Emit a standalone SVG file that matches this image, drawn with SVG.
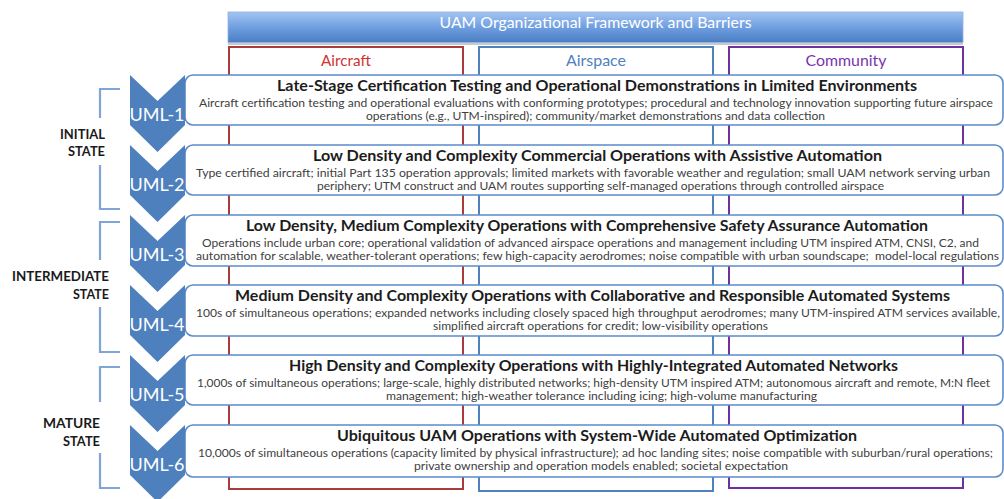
<svg xmlns="http://www.w3.org/2000/svg" xmlns:xlink="http://www.w3.org/1999/xlink" width="1004" height="499" viewBox="0 0 1004 499">
  <style>
    .hdr { font-family: Lato, "Liberation Sans", sans-serif; font-size: 15px; fill: #ffffff; }
    .col { fill: none; stroke-width: 2; }
    .collbl { font-family: Lato, "Liberation Sans", sans-serif; font-size: 15px; text-anchor: middle; }
    .row { fill: #ffffff; stroke: #5b8cca; stroke-width: 1.6; }
    .ttl { font-family: Lato, "Liberation Sans", sans-serif; font-size: 15px; font-weight: bold; fill: #1c1c1c; }
    .dsc { font-family: Lato, "Liberation Sans", sans-serif; font-size: 11px; fill: #404040; }
    .chev { fill: #4e80be; }
    .uml { font-family: Lato, "Liberation Sans", sans-serif; font-size: 18px; fill: #ffffff; text-anchor: middle; }
    .brk { fill: none; stroke: #7fa6d6; stroke-width: 2.2; }
    .state { font-family: Lato, "Liberation Sans", sans-serif; font-size: 13.5px; font-weight: bold; fill: #1a1a1a; }
  </style>
  <defs>
    <linearGradient id="hdrGrad" x1="0" y1="0" x2="0" y2="1">
      <stop offset="0" stop-color="#a4c5f2"/>
      <stop offset="0.5" stop-color="#6f9fe0"/>
      <stop offset="1" stop-color="#4a7dc3"/>
    </linearGradient>
    <path id="chevron" d="M0,0 L27.5,26 L55,0 L55,50 L27.5,77 L0,50 Z"/>
  </defs>

  <rect width="1004" height="499" fill="#ffffff"/>

  <!-- framework header -->
  <g id="header">
    <rect x="228" y="43" width="735" height="2" fill="#c9c9c9"/>
    <rect x="228" y="12" width="735" height="30.5" fill="url(#hdrGrad)" stroke="#8db2e6" stroke-width="0.8"/>
    <text class="hdr" x="439.5" y="28" textLength="312" lengthAdjust="spacingAndGlyphs">UAM Organizational Framework and Barriers</text>
  </g>

  <!-- barrier columns -->
  <g id="col-aircraft">
    <rect class="col" x="229" y="47" width="234" height="442" stroke="#aa3b3b"/>
    <text class="collbl" x="346" y="65.5" fill="#cf3434" textLength="50" lengthAdjust="spacingAndGlyphs">Aircraft</text>
  </g>
  <g id="col-airspace">
    <rect class="col" x="479" y="47" width="234" height="444" stroke="#4f81bd"/>
    <text class="collbl" x="596" y="65.5" fill="#4f81bd" textLength="60" lengthAdjust="spacingAndGlyphs">Airspace</text>
  </g>
  <g id="col-community">
    <rect class="col" x="729" y="47" width="234" height="441" stroke="#7030a0"/>
    <text class="collbl" x="846" y="65.5" fill="#7a35b0" textLength="81" lengthAdjust="spacingAndGlyphs">Community</text>
  </g>

  <!-- maturity levels -->
  <g id="uml-1">
    <rect class="row" x="185" y="75" width="818" height="50" rx="8"/>
    <text class="ttl" x="277" y="91" textLength="640" lengthAdjust="spacingAndGlyphs">Late-Stage Certification Testing and Operational Demonstrations in Limited Environments</text>
    <text class="dsc" x="199" y="106.5" textLength="794" lengthAdjust="spacingAndGlyphs">Aircraft certification testing and operational evaluations with conforming prototypes; procedural and technology innovation supporting future airspace</text>
    <text class="dsc" x="366" y="120" textLength="459" lengthAdjust="spacingAndGlyphs">operations (e.g., UTM-inspired); community/market demonstrations and data collection</text>
    <use href="#chevron" class="chev" x="130" y="75"/>
    <text class="uml" x="157" y="121">UML-1</text>
  </g>

  <g id="uml-2">
    <rect class="row" x="185" y="145" width="818" height="50" rx="8"/>
    <text class="ttl" x="313" y="161" textLength="569" lengthAdjust="spacingAndGlyphs">Low Density and Complexity Commercial Operations with Assistive Automation</text>
    <text class="dsc" x="196" y="176.5" textLength="794" lengthAdjust="spacingAndGlyphs">Type certified aircraft; initial Part 135 operation approvals; limited markets with favorable weather and regulation; small UAM network serving urban</text>
    <text class="dsc" x="317" y="190" textLength="567" lengthAdjust="spacingAndGlyphs">periphery; UTM construct and UAM routes supporting self-managed operations through controlled airspace</text>
    <use href="#chevron" class="chev" x="130" y="145"/>
    <text class="uml" x="157" y="191">UML-2</text>
  </g>

  <g id="uml-3">
    <rect class="row" x="185" y="215" width="818" height="51" rx="8"/>
    <text class="ttl" x="246" y="231" textLength="682" lengthAdjust="spacingAndGlyphs">Low Density, Medium Complexity Operations with Comprehensive Safety Assurance Automation</text>
    <text class="dsc" x="202" y="246.5" textLength="777" lengthAdjust="spacingAndGlyphs">Operations include urban core; operational validation of advanced airspace operations and management including UTM inspired ATM, CNSI, C2, and</text>
    <text class="dsc" x="196" y="260" textLength="803" lengthAdjust="spacingAndGlyphs" xml:space="preserve">automation for scalable, weather-tolerant operations; few high-capacity aerodromes; noise compatible with urban soundscape;  model-local regulations</text>
    <use href="#chevron" class="chev" x="130" y="215"/>
    <text class="uml" x="157" y="261">UML-3</text>
  </g>

  <g id="uml-4">
    <rect class="row" x="185" y="285" width="818" height="51" rx="8"/>
    <text class="ttl" x="235" y="301" textLength="715" lengthAdjust="spacingAndGlyphs">Medium Density and Complexity Operations with Collaborative and Responsible Automated Systems</text>
    <text class="dsc" x="196" y="316.5" textLength="804" lengthAdjust="spacingAndGlyphs">100s of simultaneous operations; expanded networks including closely spaced high throughput aerodromes; many UTM-inspired ATM services available,</text>
    <text class="dsc" x="433" y="330" textLength="335" lengthAdjust="spacingAndGlyphs">simplified aircraft operations for credit; low-visibility operations</text>
    <use href="#chevron" class="chev" x="130" y="285"/>
    <text class="uml" x="157" y="331">UML-4</text>
  </g>

  <g id="uml-5">
    <rect class="row" x="185" y="355" width="818" height="50" rx="8"/>
    <text class="ttl" x="289" y="371" textLength="609" lengthAdjust="spacingAndGlyphs">High Density and Complexity Operations with Highly-Integrated Automated Networks</text>
    <text class="dsc" x="197" y="386.5" textLength="793" lengthAdjust="spacingAndGlyphs">1,000s of simultaneous operations; large-scale, highly distributed networks; high-density UTM inspired ATM; autonomous aircraft and remote, M:N fleet</text>
    <text class="dsc" x="386" y="400" textLength="431" lengthAdjust="spacingAndGlyphs">management; high-weather tolerance including icing; high-volume manufacturing</text>
    <use href="#chevron" class="chev" x="130" y="355"/>
    <text class="uml" x="157" y="401">UML-5</text>
  </g>

  <g id="uml-6">
    <rect class="row" x="185" y="425" width="818" height="52" rx="8"/>
    <text class="ttl" x="337" y="441" textLength="520" lengthAdjust="spacingAndGlyphs">Ubiquitous UAM Operations with System-Wide Automated Optimization</text>
    <text class="dsc" x="198" y="456.5" textLength="795" lengthAdjust="spacingAndGlyphs">10,000s of simultaneous operations (capacity limited by physical infrastructure); ad hoc landing sites; noise compatible with suburban/rural operations;</text>
    <text class="dsc" x="414" y="470" textLength="374" lengthAdjust="spacingAndGlyphs">private ownership and operation models enabled; societal expectation</text>
    <use href="#chevron" class="chev" x="130" y="425"/>
    <text class="uml" x="157" y="471">UML-6</text>
  </g>

  <!-- state groupings -->
  <g id="state-initial">
    <path class="brk" d="M120,89 H100 V118 M100,165 V209 H120"/>
    <text class="state" x="60" y="138.5" textLength="45" lengthAdjust="spacingAndGlyphs">INITIAL</text>
    <text class="state" x="68" y="156" textLength="37" lengthAdjust="spacingAndGlyphs">STATE</text>
  </g>
  <g id="state-intermediate">
    <path class="brk" d="M120,222 H100 V260 M100,307 V352 H120"/>
    <text class="state" x="12" y="281" textLength="97" lengthAdjust="spacingAndGlyphs">INTERMEDIATE</text>
    <text class="state" x="73" y="299" textLength="36" lengthAdjust="spacingAndGlyphs">STATE</text>
  </g>
  <g id="state-mature">
    <path class="brk" d="M120,367 H100 V402 M100,453 V488 H120"/>
    <text class="state" x="43" y="428" textLength="57" lengthAdjust="spacingAndGlyphs">MATURE</text>
    <text class="state" x="63" y="446" textLength="37" lengthAdjust="spacingAndGlyphs">STATE</text>
  </g>
</svg>
